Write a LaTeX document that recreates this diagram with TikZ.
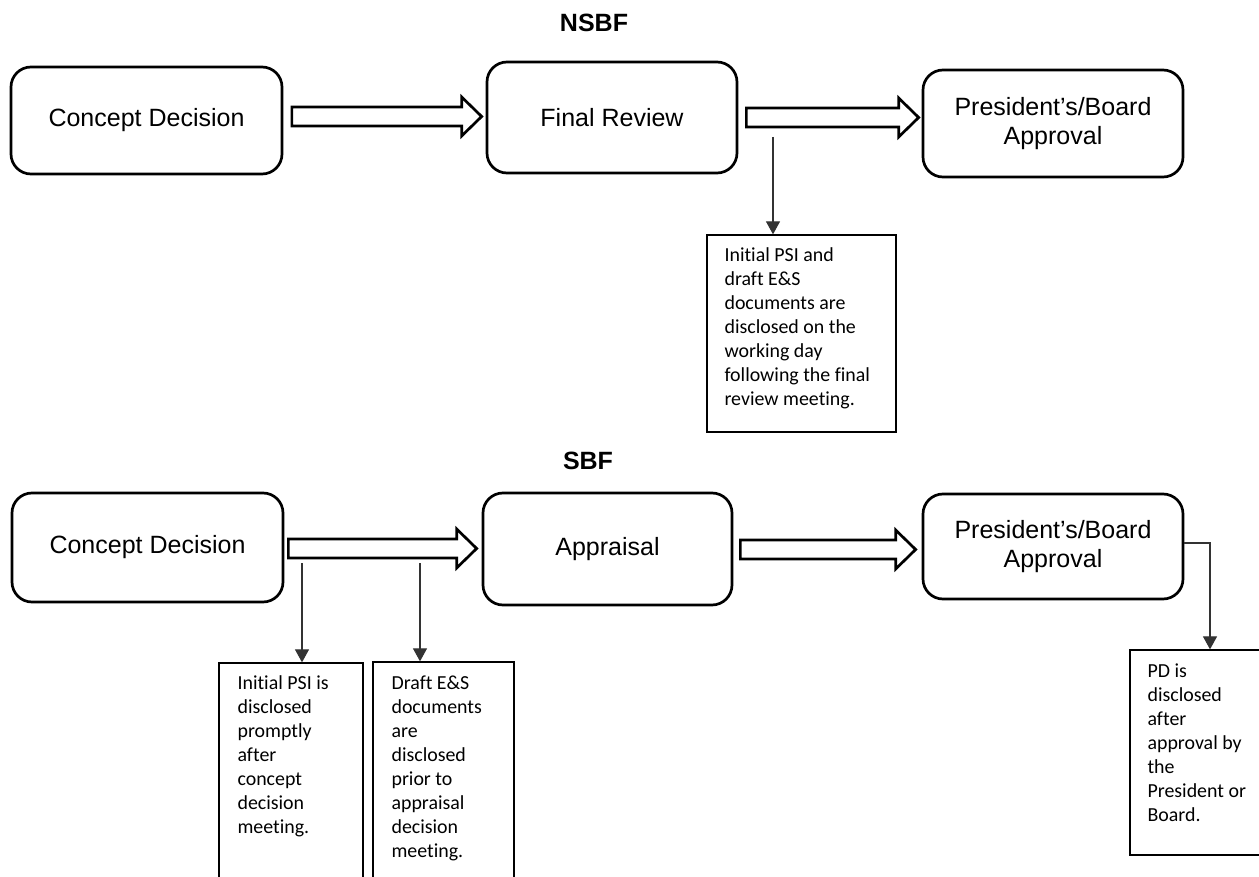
\documentclass[tikz,border=0pt]{standalone}
\usepackage{fontspec}
\setmainfont{Liberation Sans}
\newfontfamily\notefont[Ligatures=NoCommon]{Carlito}
\usetikzlibrary{arrows.meta,calc}

\tikzset{
  stage/.style={draw=black, line width=2.7pt, rounded corners=20pt, inner sep=0pt,
    align=center, font=\fontsize{25}{28.5}\selectfont},
  hollow/.style={draw=black, line width=2.7pt, fill=white, line join=miter},
  notebox/.style={draw=black, line width=1.3pt, inner sep=0pt},
  notetext/.style={inner sep=0pt, align=left, anchor=north west,
    font=\notefont\fontsize{19.9}{24.1}\selectfont},
  notearrow/.style={draw=black!80, line width=1.2pt, -{Triangle[width=14pt,length=13pt]}},
  title/.style={font=\bfseries\fontsize{25}{30}\selectfont}
}

% block arrow: #1 from node, #2 to node, #3 y (px from top), #4 start gap, #5 end gap
\newcommand\blockarrow[5]{%
  \draw[hollow] let \p1=(#1.east), \p2=(#2.west), \p3=(0,#3) in
    (\x1+#4pt,\y3+9.5pt) -- (\x2-#5pt-20pt,\y3+9.5pt) -- (\x2-#5pt-20pt,\y3+19.5pt)
    -- (\x2-#5pt,\y3) -- (\x2-#5pt-20pt,\y3-19.5pt) -- (\x2-#5pt-20pt,\y3-9.5pt)
    -- (\x1+#4pt,\y3-9.5pt) -- cycle;}
\newcommand\fl{\rule{0pt}{15pt}}

\begin{document}
\begin{tikzpicture}[x=1pt,y=-1pt]
\path[use as bounding box, fill=white] (0,0) rectangle (1259,877);

% titles
\node[title] (nsbf) at (594,23) {NSBF};
\node[title] (sbf) at (588,461) {SBF};

% NSBF row
\node[stage, minimum width=271pt, minimum height=107pt] (cd1) at (146.5,120.5) {Concept Decision};
\node[stage, minimum width=250pt, minimum height=111pt] (fr1) at (612,117.5) {Final Review};
\node[stage, minimum width=260pt, minimum height=107pt] (pa1) at (1053,123.5) {President’s/Board\\Approval};

\blockarrow{cd1}{fr1}{116.5}{8.5}{4}
\blockarrow{fr1}{pa1}{117.5}{8}{3}

\node[notebox, minimum width=189pt, minimum height=197pt] (n1) at (801.5,333.5) {};
\node[notetext] (n1t) at ($(n1.north west)+(18,11.5)$)
  {\fl Initial PSI and\\draft E\&S\\documents are\\disclosed on the\\working day\\following the final\\review meeting.};
\coordinate (t1) at (773,137);
\draw[notearrow] (t1) -- (t1 |- n1.north);

% SBF row
\node[stage, minimum width=271pt, minimum height=109pt] (cd2) at (147.5,547.5) {Concept Decision};
\node[stage, minimum width=249pt, minimum height=112pt] (ap2) at (607.5,549) {Appraisal};
\node[stage, minimum width=260pt, minimum height=105pt] (pa2) at (1053,546.5) {President’s/Board\\Approval};

\blockarrow{cd2}{ap2}{548.5}{4}{5}
\blockarrow{ap2}{pa2}{549.5}{7}{6}

\node[notebox, minimum width=144pt, minimum height=217pt] (n2) at (291,771.5) {};
\node[notetext] (n2t) at ($(n2.north west)+(19,11.6)$)
  {\fl Initial PSI is\\disclosed\\promptly\\after\\concept\\decision\\meeting.};
\node[notebox, minimum width=141pt, minimum height=218pt] (n3) at (443.5,771) {};
\node[notetext] (n3t) at ($(n3.north west)+(19,12.6)$)
  {\fl Draft E\&S\\documents\\are\\disclosed\\prior to\\appraisal\\decision\\meeting.};
\node[notebox, minimum width=132pt, minimum height=205pt] (n4) at (1196,752.5) {};
\node[notetext] (n4t) at ($(n4.north west)+(18,12.6)$)
  {\fl PD is\\disclosed\\after\\approval by\\the\\President or\\Board.};

\coordinate (t2) at (302,563);
\draw[notearrow] (t2) -- (t2 |- n2.north);
\coordinate (t3) at (420,563);
\draw[notearrow] (t3) -- (t3 |- n3.north);
\coordinate (k) at (1210,543);
\draw[notearrow] ($(pa2.east)+(0,-3.5)$) -- (k) -- (k |- n4.north);
\end{tikzpicture}
\end{document}
